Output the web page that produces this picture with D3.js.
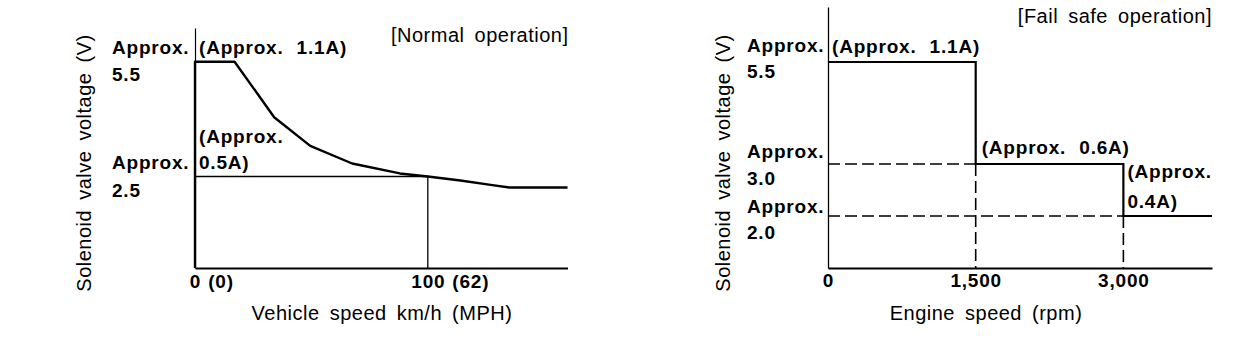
<!DOCTYPE html>
<html>
<head>
<meta charset="utf-8">
<script src="https://cdn.jsdelivr.net/npm/d3@7"></script>
<style>
  html, body { margin: 0; padding: 0; background: #fff; }
  svg { display: block; }
  .bold { font-family: "Liberation Sans", Arial, sans-serif; font-weight: bold; font-size: 19px; letter-spacing: 0.8px; word-spacing: 7px; fill: #000; }
  .reg { font-family: "Liberation Sans", Arial, sans-serif; font-weight: normal; font-size: 20px; letter-spacing: 0.5px; word-spacing: 4px; fill: #000; }
</style>
</head>
<body>
<svg id="chart" width="1248" height="358"></svg>
<script>
// ---------- Data: Normal operation ----------
const speedKmh       = [0, 0, 17, 34, 49.5, 67.5, 88, 100, 114, 127, 135, 160];
const voltageNormal  = [0, 5.5, 5.5, 4.05, 3.3, 2.84, 2.58, 2.5, 2.39, 2.27, 2.2, 2.2];
const normalRefSpeed = 100;
const normalRefVolt  = 2.5;
const normalXTicks   = [0, 100];
const normalXLabels  = [["0", "(0)"], ["100", "(62)"]];
const normalYTicks   = [5.5, 2.5];
const normalYLabels  = [["Approx.", "5.5"], ["Approx.", "2.5"]];

// ---------- Data: Fail safe operation ----------
const rpmSteps       = [0, 1500, 3000, 3900];
const voltageSteps   = [5.5, 3.0, 2.0, 2.0];
const failXTicks     = [0, 1500, 3000];
const failXLabels    = ["0", "1,500", "3,000"];
const failYTicks     = [5.5, 3.0, 2.0];
const failYLabels    = [["Approx.", "5.5"], ["Approx.", "3.0"], ["Approx.", "2.0"]];

const svg = d3.select("#chart");
svg.append("rect").attr("width", 1248).attr("height", 358).attr("fill", "#fff");

// ================= LEFT CHART =================
const xL = d3.scaleLinear().domain([0, 160]).range([195, 567.5]);
const yL = d3.scaleLinear().domain([0, 2.5, 5.5, 6.4]).range([268, 176.5, 61.7, 28]);
const gL = svg.append("g");

// y axis
const yAxisL = gL.append("g").attr("transform", `translate(${xL(0)},0)`)
  .call(d3.axisLeft(yL).tickValues(normalYTicks).tickSize(0).tickSizeOuter(0).tickFormat(""));
yAxisL.select(".domain").attr("stroke", "#000").attr("stroke-width", 1.2);
const normalLabelOffsets = [[-8, 19], [-8, 20]];
yAxisL.selectAll(".tick").each(function(d, i) {
  const t = d3.select(this).append("text").attr("class", "bold").attr("text-anchor", "start");
  t.append("tspan").attr("x", -83).attr("y", normalLabelOffsets[i][0]).text(normalYLabels[i][0]);
  t.append("tspan").attr("x", -83).attr("y", normalLabelOffsets[i][1]).text(normalYLabels[i][1]);
});

// x axis
const xAxisL = gL.append("g").attr("transform", `translate(0,${yL(0)})`)
  .call(d3.axisBottom(xL).tickValues(normalXTicks).tickSize(0).tickSizeOuter(0).tickFormat(""));
xAxisL.select(".domain").attr("stroke", "#000").attr("stroke-width", 2);
xAxisL.selectAll(".tick").each(function(d, i) {
  const g = d3.select(this);
  const first = g.append("text").attr("class", "bold").attr("text-anchor", "middle").attr("y", 20).text(normalXLabels[i][0]);
  const w = first.node().getComputedTextLength();
  g.append("text").attr("class", "bold").attr("text-anchor", "start").attr("x", w / 2 + 7).attr("y", 20).text(normalXLabels[i][1]);
});

// reference lines (thin)
gL.append("path")
  .attr("d", d3.line()([[xL(0), yL(normalRefVolt)], [xL(normalRefSpeed), yL(normalRefVolt)], [xL(normalRefSpeed), yL(0)]]))
  .attr("fill", "none").attr("stroke", "#000").attr("stroke-width", 1.3);

// curve
gL.append("path")
  .datum(speedKmh.map((s, i) => [s, voltageNormal[i]]))
  .attr("d", d3.line().x(d => xL(d[0])).y(d => yL(d[1])))
  .attr("fill", "none").attr("stroke", "#000").attr("stroke-width", 2.4).attr("stroke-linejoin", "round");

// annotations
gL.append("text").attr("class", "bold").attr("x", xL(0) + 4).attr("y", yL(5.5) - 8).text("(Approx. 1.1A)");
const a05 = gL.append("text").attr("class", "bold");
a05.append("tspan").attr("x", xL(0) + 4).attr("y", yL(2.5) - 34).text("(Approx.");
a05.append("tspan").attr("x", xL(0) + 4).attr("y", yL(2.5) - 8).text("0.5A)");

gL.append("text").attr("class", "reg").attr("text-anchor", "end").attr("x", xL(160) + 1).attr("y", 42).text("[Normal operation]");
gL.append("text").attr("class", "reg").attr("text-anchor", "middle").attr("x", 382).attr("y", 320).text("Vehicle speed km/h (MPH)");
gL.append("text").attr("class", "reg").attr("text-anchor", "middle")
  .attr("transform", "translate(91,163) rotate(-90)").text("Solenoid valve voltage (V)");

// ================= RIGHT CHART =================
const xR = d3.scaleLinear().domain([0, 3900]).range([828, 1212]);
const yR = d3.scaleLinear().domain([0, 2, 3, 5.5, 6.85]).range([268, 216, 164, 62, 7]);
const gR = svg.append("g");

const yAxisR = gR.append("g").attr("transform", `translate(${xR(0)},0)`)
  .call(d3.axisLeft(yR).tickValues(failYTicks).tickSize(0).tickSizeOuter(0).tickFormat(""));
yAxisR.select(".domain").attr("stroke", "#000").attr("stroke-width", 1.3);
const failLabelOffsets = [[-11, 15], [-7, 20], [-4, 22]];
yAxisR.selectAll(".tick").each(function(d, i) {
  const t = d3.select(this).append("text").attr("class", "bold").attr("text-anchor", "start");
  t.append("tspan").attr("x", -81).attr("y", failLabelOffsets[i][0]).text(failYLabels[i][0]);
  t.append("tspan").attr("x", -81).attr("y", failLabelOffsets[i][1]).text(failYLabels[i][1]);
});

const xAxisR = gR.append("g").attr("transform", `translate(0,${yR(0)})`)
  .call(d3.axisBottom(xR).tickValues(failXTicks).tickSize(0).tickSizeOuter(0).tickFormat(""));
xAxisR.select(".domain").attr("stroke", "#000").attr("stroke-width", 2);
xAxisR.selectAll(".tick").each(function(d, i) {
  d3.select(this).append("text").attr("class", "bold").attr("text-anchor", "middle").attr("y", 19).text(failXLabels[i]);
});

// dashed guide lines
for (let i = 1; i < rpmSteps.length - 1; i++) {
  gR.append("path")
    .attr("d", d3.line()([[xR(0), yR(voltageSteps[i])], [xR(rpmSteps[i]), yR(voltageSteps[i])]]))
    .attr("stroke", "#000").attr("stroke-width", 1.6).attr("stroke-dasharray", "12,5").attr("fill", "none");
  gR.append("path")
    .attr("d", d3.line()([[xR(rpmSteps[i]), yR(voltageSteps[i])], [xR(rpmSteps[i]), yR(0)]]))
    .attr("stroke", "#000").attr("stroke-width", 1.6).attr("stroke-dasharray", "12,5").attr("fill", "none");
}

// step line
gR.append("path")
  .datum(rpmSteps.map((r, i) => [r, voltageSteps[i]]))
  .attr("d", d3.line().x(d => xR(d[0])).y(d => yR(d[1])).curve(d3.curveStepAfter))
  .attr("fill", "none").attr("stroke", "#000").attr("stroke-width", 2.2);

gR.append("text").attr("class", "bold").attr("x", xR(0) + 4).attr("y", yR(5.5) - 9).text("(Approx. 1.1A)");
gR.append("text").attr("class", "bold").attr("x", xR(1500) + 6).attr("y", yR(3.0) - 10).text("(Approx. 0.6A)");
const a04 = gR.append("text").attr("class", "bold");
a04.append("tspan").attr("x", xR(3000) + 4).attr("y", yR(2.0) - 38).text("(Approx.");
a04.append("tspan").attr("x", xR(3000) + 4).attr("y", yR(2.0) - 8).text("0.4A)");

gR.append("text").attr("class", "reg").attr("text-anchor", "end").attr("x", xR(3900)).attr("y", 23).text("[Fail safe operation]");
gR.append("text").attr("class", "reg").attr("text-anchor", "middle").attr("x", 986).attr("y", 320).text("Engine speed (rpm)");
gR.append("text").attr("class", "reg").attr("text-anchor", "middle")
  .attr("transform", "translate(730,163) rotate(-90)").text("Solenoid valve voltage (V)");
</script>
</body>
</html>
